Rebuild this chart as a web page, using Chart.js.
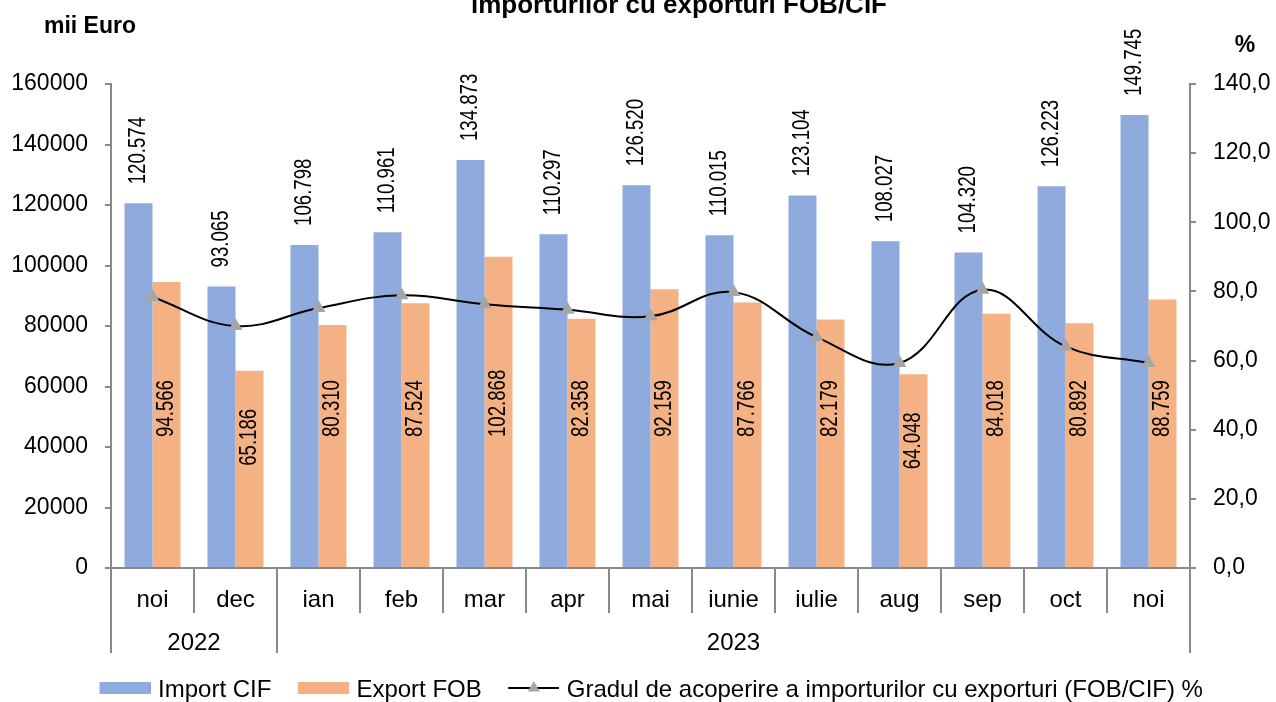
<!DOCTYPE html>
<html><head><meta charset="utf-8">
<script src="https://cdn.jsdelivr.net/npm/chart.js@4/dist/chart.umd.min.js"></script>
<style>html,body{margin:0;padding:0;background:#fff;overflow:hidden}</style>
</head><body>
<canvas id="c" width="1276" height="702"></canvas>
<script>
// ---- data ----
const months = ['noi','dec','ian','feb','mar','apr','mai','iunie','iulie','aug','sep','oct','noi'];
const yearLabels = ['2022','2023'];
const yearSpans = [2, 11];
const importCIF = [120574, 93065, 106798, 110961, 134873, 110297, 126520, 110015, 123104, 108027, 104320, 126223, 149745];
const exportFOB = [94566, 65186, 80310, 87524, 102868, 82358, 92159, 87766, 82179, 64048, 84018, 80892, 88759];
const coverage = [78.4, 70.0, 75.2, 78.9, 76.3, 74.7, 72.8, 79.8, 66.8, 59.3, 80.5, 64.1, 59.3];
const seriesNames = ['Import CIF', 'Export FOB', 'Gradul de acoperire a importurilor cu exporturi (FOB/CIF) %'];
const titleText = 'importurilor cu exporturi FOB/CIF';
const leftUnit = 'mii Euro';
const rightUnit = '%';

// ---- style ----
const FONT = "'Liberation Sans', Arial, sans-serif";
const BLUE = '#8FAADC', ORANGE = '#F4B183', GREY = '#A5A5A5', AXIS = '#898989';
Chart.defaults.font.family = FONT;
Chart.defaults.color = '#000';

function fmt(v) {
  const s = String(Math.round(v));
  return s.slice(0, s.length - 3) + '.' + s.slice(-3);
}

function swatch(kind, color) {
  const c = document.createElement('canvas');
  c.width = 82; c.height = 24;
  const g = c.getContext('2d');
  if (kind === 'bar') {
    g.fillStyle = color; g.fillRect(31, 4, 51, 12);
  } else {
    g.strokeStyle = '#000'; g.lineWidth = 2;
    g.beginPath(); g.moveTo(31, 10); g.lineTo(82, 10); g.stroke();
    g.fillStyle = GREY;
    g.beginPath(); g.moveTo(56.5, 3); g.lineTo(62.6, 13.5); g.lineTo(50.4, 13.5); g.closePath(); g.fill();
  }
  return c;
}
const swatches = [swatch('bar', BLUE), swatch('bar', ORANGE), swatch('line')];

function drawRot(ctx, t, x, y) {
  ctx.save();
  ctx.translate(x, y);
  ctx.rotate(-Math.PI / 2);
  ctx.scale(0.81, 1);
  ctx.textAlign = 'left';
  ctx.textBaseline = 'middle';
  ctx.fillText(t, 0, 0);
  ctx.restore();
}

const extras = {
  id: 'extras',
  afterDatasetsDraw(chart) {
    const ctx = chart.ctx;
    const ca = chart.chartArea;
    ctx.save();
    ctx.fillStyle = '#000';
    ctx.font = '23px ' + FONT;
    chart.getDatasetMeta(0).data.forEach((bar, i) => drawRot(ctx, fmt(importCIF[i]), bar.x, bar.y - 19));
    chart.getDatasetMeta(1).data.forEach((bar, i) => drawRot(ctx, fmt(exportFOB[i]), bar.x, Math.max(ca.bottom - 131, bar.y + 95)));
    ctx.restore();
  },
  afterDraw(chart) {
    const ctx = chart.ctx;
    const x = chart.scales.x;
    const step = x.getPixelForValue(1) - x.getPixelForValue(0);
    const first = x.getPixelForValue(0) - step / 2;
    ctx.save();
    ctx.strokeStyle = AXIS; ctx.lineWidth = 2;
    let idx = 0;
    const bounds = [0];
    yearSpans.forEach(n => { idx += n; bounds.push(idx); });
    bounds.forEach(i => {
      const px = Math.round(first + i * step);
      ctx.beginPath(); ctx.moveTo(px, x.top + 44); ctx.lineTo(px, x.top + 85); ctx.stroke();
    });
    ctx.fillStyle = '#000';
    ctx.font = '24px ' + FONT;
    ctx.textAlign = 'center'; ctx.textBaseline = 'alphabetic';
    let start = 0;
    yearLabels.forEach((lab, k) => {
      const end = start + yearSpans[k] - 1;
      const cx = (x.getPixelForValue(start) + x.getPixelForValue(end)) / 2;
      ctx.fillText(lab, cx, x.top + 82);
      start += yearSpans[k];
    });
    ctx.font = 'bold 26px ' + FONT;
    ctx.fillText(titleText, 679, 13);
    ctx.font = 'bold 23px ' + FONT;
    ctx.textAlign = 'left';
    ctx.fillText(leftUnit, 44, 33);
    ctx.textAlign = 'center';
    ctx.fillText(rightUnit, 1245, 52);
    ctx.restore();
  }
};

new Chart(document.getElementById('c'), {
  data: {
    labels: months,
    datasets: [
      { type: 'bar', label: seriesNames[0], data: importCIF, backgroundColor: BLUE, yAxisID: 'y', order: 2,
        categoryPercentage: 0.675, barPercentage: 1.0 },
      { type: 'bar', label: seriesNames[1], data: exportFOB, backgroundColor: ORANGE, yAxisID: 'y', order: 2,
        categoryPercentage: 0.675, barPercentage: 1.0 },
      { type: 'line', label: seriesNames[2], data: coverage, yAxisID: 'y1', order: 1,
        borderColor: '#000', borderWidth: 2, tension: 0.4, fill: false,
        pointStyle: 'triangle', pointRadius: 8, pointBackgroundColor: GREY, pointBorderColor: GREY, pointBorderWidth: 0 }
    ]
  },
  options: {
    responsive: false,
    devicePixelRatio: 1,
    animation: false,
    events: [],
    layout: { padding: { top: 84, bottom: 0, left: 0, right: 0 } },
    plugins: {
      title: { display: false },
      tooltip: { enabled: false },
      legend: {
        position: 'bottom',
        maxHeight: 24,
        labels: {
          usePointStyle: true,
          pointStyleWidth: 73,
          padding: 0,
          color: '#000',
          font: { size: 24, family: FONT },
          generateLabels(chart) {
            return chart.data.datasets.map((ds, i) => ({
              text: ds.label, pointStyle: swatches[i], fillStyle: 'transparent',
              strokeStyle: 'transparent', lineWidth: 0, hidden: false, datasetIndex: i
            }));
          }
        }
      }
    },
    scales: {
      x: {
        type: 'category',
        offset: true,
        afterFit: s => { s.height = 110; },
        grid: { offset: true, drawOnChartArea: false, drawTicks: true, tickLength: 45, color: AXIS, lineWidth: 2 },
        border: { display: true, color: AXIS, width: 2 },
        ticks: { autoSkip: false, maxRotation: 0, minRotation: 0, padding: -27, color: '#000', font: { size: 24, family: FONT } }
      },
      y: {
        position: 'left',
        min: 0, max: 160000,
        afterFit: s => { s.width = 111; },
        grid: { drawOnChartArea: false, drawTicks: true, tickLength: 6, color: AXIS, lineWidth: 2 },
        border: { display: true, color: AXIS, width: 2 },
        ticks: { stepSize: 20000, padding: 17, color: '#000', font: { size: 23, family: FONT }, callback: v => String(v) }
      },
      y1: {
        position: 'right',
        min: 0, max: 140,
        afterFit: s => { s.width = 86; },
        grid: { drawOnChartArea: false, drawTicks: true, tickLength: 6, color: AXIS, lineWidth: 2 },
        border: { display: true, color: AXIS, width: 2 },
        ticks: { stepSize: 20, padding: 17, color: '#000', font: { size: 23, family: FONT }, callback: v => Number(v).toFixed(1).replace('.', ',') }
      }
    }
  },
  plugins: [extras]
});
</script>
</body></html>
